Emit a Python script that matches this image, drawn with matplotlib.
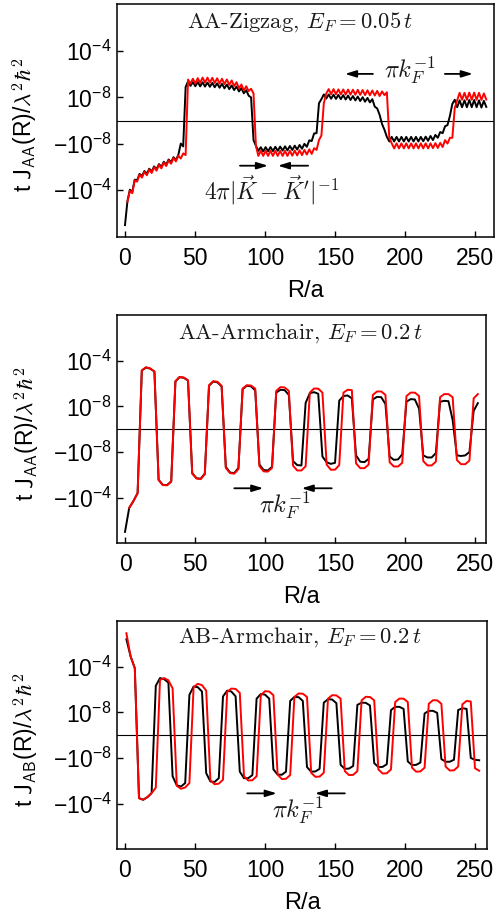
import numpy as np
import matplotlib
matplotlib.use('Agg')
import matplotlib.pyplot as plt

plt.rcParams.update({
    'font.family': 'Liberation Sans',
    'mathtext.fontset': 'custom',
    'mathtext.rm': 'Liberation Sans',
    'mathtext.it': 'Liberation Sans:italic',
    'mathtext.bf': 'Liberation Sans:bold',
    'mathtext.sf': 'Liberation Sans',
    'axes.linewidth': 1.1,
})

# values are given in "decades" along the folded log axis:
# 0 -> J = 0, +-2 -> +-1e-8, +-6 -> +-1e-4 (one unit per decade past 1e-8)

# AA zigzag, E_F = 0.05 t  (sampled every sqrt(3) a)
zz_black = [
    -9.07, -7.0, -6.0, -6.2, -5.13, -5.17, -4.63, -4.82, -4.38, -4.62,
    -4.18, -4.42, -3.98, -4.22, -3.78, -4.02, -3.58, -3.82, -3.38, -3.62,
    -3.18, -3.42, -2.98, -2.0, -2.25, 2.9, 3.4, 3.0,
    3.33, 2.97, 3.33, 2.96, 3.31, 2.94, 3.29, 2.92, 3.26, 2.88,
    3.22, 2.84, 3.18, 2.79, 3.12, 2.72, 3.04, 2.64, 2.94, 2.52,
    2.8, 2.36, 2.63, 2.15, 2.0, -1.7, -2.2, -2.63,
    -2.32, -2.68, -2.31, -2.67, -2.3, -2.65, -2.28, -2.63, -2.26, -2.61,
    -2.24, -2.59, -2.21, -2.56, -2.18, -2.52, -2.12,
    -2.45, -2.02, -2.28, -1.72, -1.78, -1.12, -1.1, 1.5, 1.85,
    2.26, 1.9, 2.26, 1.89, 2.24, 1.87, 2.22, 1.85, 2.2, 1.82,
    2.16, 1.78, 2.12, 1.74, 2.08, 1.69, 2.02, 1.63, 1.96, 1.57, 1.85,
    1.2, 1.05, 0.5, -0.3, -0.8, -1.42, -1.82,
    -1.42, -1.82, -1.42, -1.82, -1.42, -1.82, -1.42, -1.82, -1.42, -1.82,
    -1.42, -1.82, -1.42, -1.8, -1.4, -1.76, -1.34, -1.7,
    -1.25, -1.5, -1.0, -1.1, -0.5, -0.4, 0.4, 1.44, 1.8,
    1.15, 1.75, 1.15, 1.75, 1.15, 1.78, 1.15, 1.78, 1.15, 1.75, 1.12, 1.7, 1.18,
]
zz_red = [
    np.nan, -7.05, -6.1, -6.3, -5.2, -5.3, -4.7, -4.95, -4.45, -4.75,
    -4.25, -4.55, -4.05, -4.35, -3.85, -4.15, -3.65, -3.95, -3.45, -3.75,
    -3.25, -3.55, -3.05, -3.3, -2.85, -3.0, 3.55, 3.2,
    3.62, 3.2, 3.67, 3.25, 3.72, 3.28, 3.72, 3.28, 3.7, 3.24,
    3.66, 3.2, 3.62, 3.15, 3.56, 3.08, 3.47, 2.98, 3.32, 2.78,
    3.12, 2.6, 2.97, 2.55, 2.75, 2.35, -2.2, -3.07,
    -2.63, -3.07, -2.63, -3.07, -2.63, -3.07, -2.63, -3.07, -2.63, -3.07,
    -2.63, -3.07, -2.63, -3.05, -2.6, -3.03, -2.58, -3.0, -2.55, -2.95,
    -2.5, -2.9, -2.4, -2.55, -1.7, -1.3, 1.5, 2.34,
    2.72, 2.28, 2.72, 2.27, 2.7, 2.26, 2.69, 2.25, 2.68, 2.24,
    2.67, 2.23, 2.66, 2.22, 2.64, 2.2, 2.62, 2.18, 2.6, 2.16, 2.57, 2.12, 2.52,
    2.2, 2.45, -1.5,
    -1.98, -2.42, -1.98, -2.42, -1.98, -2.42, -1.98, -2.42, -1.98, -2.42,
    -1.98, -2.42, -1.98, -2.42, -1.98, -2.42, -1.98, -2.4, -1.96, -2.38,
    -1.94, -2.3,
    -1.7, -2.0, -1.5, -1.5, 1.1, 1.76, 2.4,
    1.8, 2.4, 1.8, 2.42, 1.8, 2.42, 1.8, 2.4, 1.78, 2.35, 1.82,
]

# AA armchair, E_F = 0.2 t  (R = 0, 3, 6, ...)
ac_black = [
    -9.0, -6.9, -6.3, -5.6,
    5.14, 5.4, 5.3, 5.05, -4.44, -4.88, -4.9, -4.58,
    4.18, 4.55, 4.5, 4.26, -3.85, -4.29, -4.35, -3.9,
    3.8, 4.17, 4.1, 3.74, -3.3, -3.8, -3.85, -3.4,
    3.5, 3.8, 3.75, 3.4, -3.1, -3.58, -3.62, -3.3,
    3.2, 3.45, 3.42, 3.0, -2.8, -3.15, -3.18, 2.3,
    3.15, 3.24, 3.1, -2.4, -2.9, -3.04, -2.95, 2.5,
    2.9, 2.95, 2.7, -2.3, -2.85, -2.89, -2.6,
    2.6, 2.83, 2.8, 2.2, -2.4, -2.69, -2.65, -2.2,
    2.4, 2.63, 2.6, 1.8, -2.3, -2.48, -2.48, -2.1,
    2.4, 2.48, 2.45, 0.8, -2.3, -2.35, -2.3, -2.0,
    1.6, 2.28,
]
ac_red = [
    np.nan, -6.9, -6.3, -5.6,
    5.14, 5.42, 5.32, 5.05, -4.45, -4.9, -4.92, -4.6,
    4.2, 4.58, 4.52, 4.28, -3.9, -4.32, -4.38, -3.95,
    3.85, 4.2, 4.15, 3.8, -3.4, -3.85, -3.9, -3.5,
    3.55, 3.85, 3.82, 3.55, -3.25, -3.7, -3.72, -3.4,
    3.35, 3.68, 3.65, 3.35, -3.2, -3.62, -3.62, -3.25,
    3.2, 3.56, 3.55, 3.2, -3.1, -3.56, -3.55, -3.15,
    3.2, 3.45, 3.42, -3.0, -3.42, -3.42, -3.1,
    3.0, 3.3, 3.3, 3.0, -2.9, -3.27, -3.27, -2.95,
    2.9, 3.2, 3.2, 2.9, -2.8, -3.18, -3.18, -2.85,
    2.8, 3.07, 3.07, 2.8, -2.7, -3.07, -3.07, -2.75,
    2.7, 3.07,
]

# AB armchair, E_F = 0.2 t  (R = 1, 4, 7, ...)
ab_black = [
    8.4, 6.9, 5.87, -5.52, -5.66, -5.43, -5.08,
    4.32, 5.0, 4.9, 4.6, -3.6, -4.4, -4.5, -4.2,
    3.53, 4.26, 4.2, 3.82, -3.33, -4.06, -4.1, -3.77,
    3.39, 3.9, 3.82, 3.4, -3.2, -3.77, -3.77, -3.5,
    3.2, 3.6, 3.55, 3.2, -3.0, -3.45, -3.47, -3.2,
    3.0, 3.35, 3.33, 3.0, -2.8, -3.2, -3.18, -2.95,
    2.85, 3.15, 3.12, 2.8, -2.6, -2.95, -2.93, -2.7,
    2.65, 2.85, 2.83, 2.6, -2.45, -2.8, -2.78, -2.55,
    2.2, 2.48, 2.48, 2.3, -2.3, -2.63, -2.6, -2.4,
    1.9, 2.13, 2.13, 1.95, -2.1, -2.33, -2.33, -2.15,
    2.2, 2.36, 2.3, -2.0, -2.16, -2.2,
]
ab_red = [
    8.93, 6.9, 5.87, -5.52, -5.66, -5.43, -5.08, -4.6,
    4.85, 5.0, 4.8, 4.1, -4.44, -4.7, -4.58, -4.2,
    4.2, 4.5, 4.38, 3.9, -3.95, -4.3, -4.25, -3.9,
    3.8, 4.08, 4.05, 3.7, -3.6, -3.97, -3.95, -3.6,
    3.5, 3.85, 3.82, 3.5, -3.45, -3.85, -3.82, -3.5,
    3.35, 3.65, 3.63, 3.35, -3.3, -3.65, -3.63, -3.3,
    3.2, 3.5, 3.48, 3.2, -3.15, -3.5, -3.48, -3.15,
    3.05, 3.36, 3.34, 3.05, -3.0, -3.36, -3.34, -3.0,
    2.9, 3.2, 3.2, 2.9, -2.85, -3.2, -3.18, -2.85,
    2.75, 3.06, 3.05, 2.75, -2.75, -3.1, -3.08, -2.75,
    2.7, 3.0, 2.95, -2.9, -3.12,
]

assert len(zz_black) == len(zz_red) == 150, (len(zz_black), len(zz_red))
assert len(ac_black) == len(ac_red) == 85, (len(ac_black), len(ac_red))
assert len(ab_black) == len(ab_red) == 85, (len(ab_black), len(ab_red))

zz_R = np.arange(len(zz_black)) * np.sqrt(3)
ac_R = np.arange(len(ac_black)) * 3.0
ab_R = 1 + np.arange(len(ab_black)) * 3.0


def to_j(d):
    d = np.asarray(d, dtype=float)
    big = np.sign(d) * 10.0 ** (np.abs(d) - 10)
    return np.where(np.abs(d) > 2, big, d / 2 * 1e-8)


def setup(ax, xmax, ytop, ylabel):
    ax.set_yscale('symlog', linthresh=1e-8, linscale=1.8)
    ax.set_ylim(-to_j(ytop), to_j(ytop))
    ax.set_xlim(-5.5, xmax)
    ax.axhline(0, color='k', lw=0.8, zorder=1)
    ax.set_yticks([1e-4, 1e-8, -1e-8, -1e-4])
    ax.set_yticklabels([r'$10^{-4}$', r'$10^{-8}$', r'$-10^{-8}$', r'$-10^{-4}$'])
    ax.yaxis.set_minor_locator(plt.NullLocator())
    ax.set_xticks([0, 50, 100, 150, 200, 250])
    ax.tick_params(direction='in', length=4, width=1, labelsize=16.5)
    ax.tick_params(axis='x', pad=7)
    ax.tick_params(axis='y', pad=4)
    ax.set_xlabel('R/a', fontsize=17)
    ax.xaxis.set_label_coords(0.5, -0.185)
    ax.set_ylabel(ylabel, fontsize=16.5, math_fontfamily='cm')
    ax.yaxis.set_label_coords(-0.205, 0.48)


def arrow(ax, x0, x1, y):
    ax.annotate('', xy=(x1, y), xytext=(x0, y), xycoords='axes fraction',
                arrowprops=dict(arrowstyle='-|>,head_length=0.55,head_width=0.17',
                                color='k', lw=1.3, mutation_scale=12,
                                shrinkA=0, shrinkB=0))


def label(ax, x, y, s, size=16.3):
    ax.text(x, y, s, transform=ax.transAxes, ha='center', va='center',
            family='cmr10', math_fontfamily='cm', fontsize=size, color='#1a1a1a')


fig = plt.figure(figsize=(4.98, 9.23), dpi=100)
W, H = 498.0, 923.0
ax1 = fig.add_axes([117.3 / W, 1 - 237 / H, 377 / W, 233 / H])
ax2 = fig.add_axes([117.3 / W, 1 - 543.3 / H, 368.4 / W, 228.3 / H])
ax3 = fig.add_axes([117.3 / W, 1 - 849.3 / H, 370 / W, 228.3 / H])

for ax, R, kk, rr in [(ax1, zz_R, zz_black, zz_red),
                      (ax2, ac_R, ac_black, ac_red),
                      (ax3, ab_R, ab_black, ab_red)]:
    ax.plot(R, to_j(kk), color='k', lw=1.4, zorder=2)
    ax.plot(R, to_j(rr), color='#ff0000', lw=1.4, zorder=3)

setup(ax1, 263.8, 10.1, r't $\mathsf{J}_{\mathsf{AA}}$(R)/$\lambda^2\hbar^2$')
setup(ax2, 257.6, 10.0, r't $\mathsf{J}_{\mathsf{AA}}$(R)/$\lambda^2\hbar^2$')
setup(ax3, 258.8, 10.0, r't $\mathsf{J}_{\mathsf{AB}}$(R)/$\lambda^2\hbar^2$')

label(ax1, 0.485, 0.924, r'AA-Zigzag, $E_F = 0.05\,t$')
label(ax2, 0.496, 0.92, r'AA-Armchair, $E_F = 0.2\,t$')
label(ax3, 0.494, 0.929, r'AB-Armchair, $E_F = 0.2\,t$')

# K-K' beating period
arrow(ax1, 0.3255, 0.3997, 0.306)
arrow(ax1, 0.506, 0.426, 0.306)
label(ax1, 0.41, 0.2017, r"$4\pi|\vec{K}-\vec{K}'|^{-1}$", 17)
# Fermi wavelength
arrow(ax1, 0.678, 0.604, 0.70)
arrow(ax1, 0.869, 0.943, 0.70)
label(ax1, 0.776, 0.717, r'$\pi k_F^{-1}$', 17.5)

arrow(ax2, 0.3176, 0.3963, 0.241)
arrow(ax2, 0.582, 0.5005, 0.241)
label(ax2, 0.455, 0.168, r'$\pi k_F^{-1}$', 17.5)

arrow(ax3, 0.351, 0.431, 0.245)
arrow(ax3, 0.615, 0.534, 0.245)
label(ax3, 0.489, 0.172, r'$\pi k_F^{-1}$', 17.5)

fig.savefig('out.png', dpi=100)
